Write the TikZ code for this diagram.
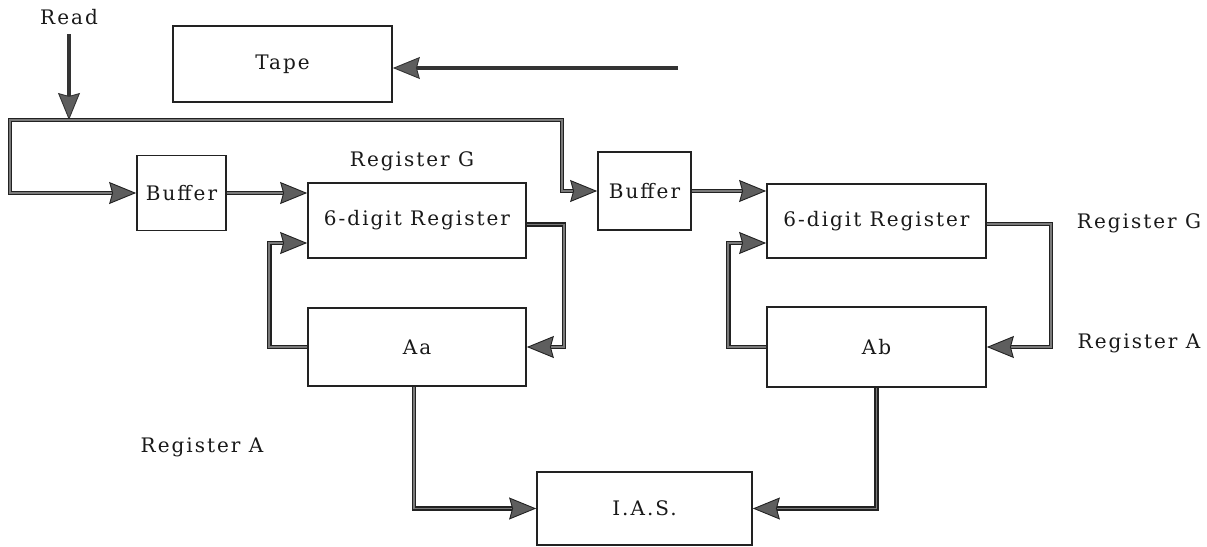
\documentclass[tikz,border=0pt]{standalone}
\usepackage{fontspec}
\usetikzlibrary{arrows.meta,calc}
% spaced-out serif used for every caption
\newfontfamily\spacedserif{DejaVu Serif}[LetterSpace=10]
\definecolor{inkdark}{HTML}{222222}
\definecolor{inkgrey}{HTML}{333333}
\definecolor{tipgrey}{HTML}{5E5E5E}
\definecolor{coregrey}{HTML}{7A7A7A}
\tikzset{
  lbl/.style={font=\spacedserif\fontsize{20}{24}\selectfont, text=black!90, inner sep=0pt},
  box/.style={draw=inkdark, line width=1.7pt, inner sep=0pt, lbl},
  bigtip/.style={-{Stealth[length=27pt,width=22pt,inset=3pt,line width=0.9pt,fill=tipgrey]}},
  dbl/.style={draw=inkdark, line width=1.6pt, double=coregrey, double distance=1.5pt, bigtip},
  solid arrow/.style={draw=inkgrey, line width=4.6pt, bigtip},
}
\begin{document}
\begin{tikzpicture}[x=1pt,y=-1pt]
\useasboundingbox (0,0) rectangle (1207,546);

% blocks
\node[box, minimum width=219pt, minimum height=76pt] (tape) at (282.5,64) {Tape};
\node[box, minimum width=89pt,  minimum height=75pt] (buf1) at (181.5,193) {Buffer};
\node[box, minimum width=218pt, minimum height=75pt] (reg1) at (417,220.5) {6-digit Register};
\node[box, minimum width=218pt, minimum height=78pt] (aa)   at (417,347) {Aa};
\node[box, minimum width=93pt,  minimum height=78pt] (buf2) at (644.5,191) {Buffer};
\node[box, minimum width=219pt, minimum height=74pt] (reg2) at (876.5,221) {6-digit Register};
\node[box, minimum width=219pt, minimum height=80pt] (ab)   at (876.5,347) {Ab};
\node[box, minimum width=215pt, minimum height=73pt] (ias)  at (644.5,508.5) {I.A.S.};

% labels
\node[lbl] (read)  at (69,17)   {Read};
\node[lbl] (rg1)   at (412,161) {Register G};
\node[lbl] (rg2)   at (1139,223) {Register G};
\node[lbl] (ra2)   at (1139,343) {Register A};
\node[lbl] (ra1)   at (202,447) {Register A};

% free ends and bus corners
\coordinate (readtop) at (69,34);
\coordinate (junction) at (69,120);
\coordinate (busleft) at (10,120);
\coordinate (busright) at (562,120);
\coordinate (tapesrc) at (678,68);

% input lines
\draw[solid arrow] (readtop) -- (junction);
\draw[solid arrow] (tapesrc) -- (tapesrc -| tape.east);

% read bus feeding both buffers
\draw[dbl] (junction) -- (busleft) |- (buf1.west);
\draw[dbl] (junction) -- (busright) |- (buf2.west);

% buffers into registers
\draw[dbl] (buf1.east) -- (buf1.east -| reg1.west);
\draw[dbl] (buf2.east) -- (buf2.east -| reg2.west);

% left register loop
\draw[dbl] (aa.west) -- ++(-38,0) |- ($(reg1.west)+(0,22.5)$);
\draw[dbl] ($(reg1.east)+(0,4)$) -- ++(37,0) |- (aa.east);

% right register loop
\draw[dbl] (ab.west) -- ++(-38,0) |- ($(reg2.west)+(0,22)$);
\draw[dbl] ($(reg2.east)+(0,3)$) -- ++(64,0) |- (ab.east);

% accumulators into I.A.S.
\draw[dbl] ($(aa.south)+(-3,0)$) |- (ias.west);
\draw[dbl] (ab.south) |- (ias.east);
\end{tikzpicture}
\end{document}
